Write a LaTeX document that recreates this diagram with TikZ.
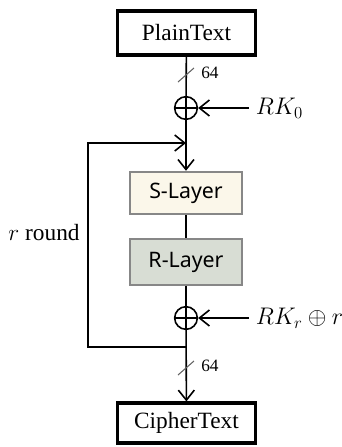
\documentclass[tikz,border=0pt]{standalone}
\usepackage{fix-cm}
\usepackage{fontspec}
\setmainfont{Liberation Serif}
\setsansfont{Noto Sans}
\usetikzlibrary{arrows.meta,positioning,calc}

\definecolor{slayerfill}{RGB}{251, 247, 234}
\definecolor{rlayerfill}{RGB}{216, 221, 212}
\definecolor{layerdraw}{RGB}{135, 135, 135}
\definecolor{slashgray}{RGB}{100, 100, 100}

\tikzset{
	textbox/.style={draw, line width=2.4pt, minimum width=104pt, minimum height=33pt, inner sep=0pt, font=\fontsize{17.5}{20}\selectfont},
	layerbox/.style={draw=layerdraw, line width=1.3pt, minimum width=84pt, minimum height=32pt, inner sep=0pt, font=\sffamily\fontsize{16}{18}\selectfont},
	xorop/.style={circle, draw, line width=1.2pt, minimum size=17pt, inner sep=0pt,
		path picture={\draw[line width=1.2pt] (path picture bounding box.north) -- (path picture bounding box.south)
			(path picture bounding box.west) -- (path picture bounding box.east);}},
	wire/.style={line width=1.2pt},
	flow/.style={line width=1.2pt, -{Straight Barb[length=7.5pt,width=12pt,line width=1.2pt]}},
	keylabel/.style={anchor=west, inner ysep=1pt, inner xsep=5pt, font=\fontsize{18}{20}\selectfont},
	widthlabel/.style={anchor=west, inner sep=0pt, font=\fontsize{13}{15}\selectfont},
}

\begin{document}
\begin{tikzpicture}[x=0.75pt, y=-0.75pt]
		
		% Rahmen (Bildgröße)
		\useasboundingbox (0,0) rectangle (342,447);
		
		% Ein- und Ausgabe
		\node[textbox] (plain) at (186.5,33) {PlainText};
		\node[textbox, minimum height=30pt] (cipher) at (186.5,423) {CipherText};
		
		% XOR mit Rundenschlüssel
		\node[xorop] (xor0) at (186,108) {};
		\node[xorop] (xorr) at (186,318) {};
		
		% Die beiden Schichten
		\node[layerbox, fill=slayerfill] (slayer) at (186,193) {S-Layer};
		\node[layerbox, fill=rlayerfill, minimum height=34pt] (rlayer) at (186,262) {R-Layer};
		
		% Schlüssel
		\node[keylabel] (rk0) at (249,108) {$RK_0$};
		\node[keylabel] (rkr) at (249,318) {$RK_r \oplus r$};
		
		% Hilfspunkte für die Rundenschleife
		\coordinate (join) at (186,143);
		\coordinate (split) at (186,347);
		\coordinate (loopleft) at (88,347);
		
		% Verbindungen
		\draw[wire] (plain) -- (xor0);
		\draw[flow] (xor0) -- (slayer);
		\draw[wire] (slayer) -- (rlayer);
		\draw[wire] (rlayer) -- (xorr);
		\draw[flow] (xorr) -- (cipher);
		\draw[flow] (rk0) -- (xor0);
		\draw[flow] (rkr) -- (xorr);
		
		% Rundenschleife
		\draw[flow] (split) -- (loopleft) |- (join);
		\node[font=\fontsize{17.5}{20}\selectfont] (rounds) at (44,233) {$r$ round};
		
		% Busbreite 64 bit
		\foreach \name/\ypos in {win/75, wout/368} {
			\coordinate (\name) at (186,\ypos);
			\draw[slashgray, line width=0.8pt] ([shift={(-8,7)}]\name) -- ([shift={(8,-7)}]\name);
			\node[widthlabel] at ([shift={(15,-2)}]\name) {64};
		}
		
	\end{tikzpicture}
\end{document}
